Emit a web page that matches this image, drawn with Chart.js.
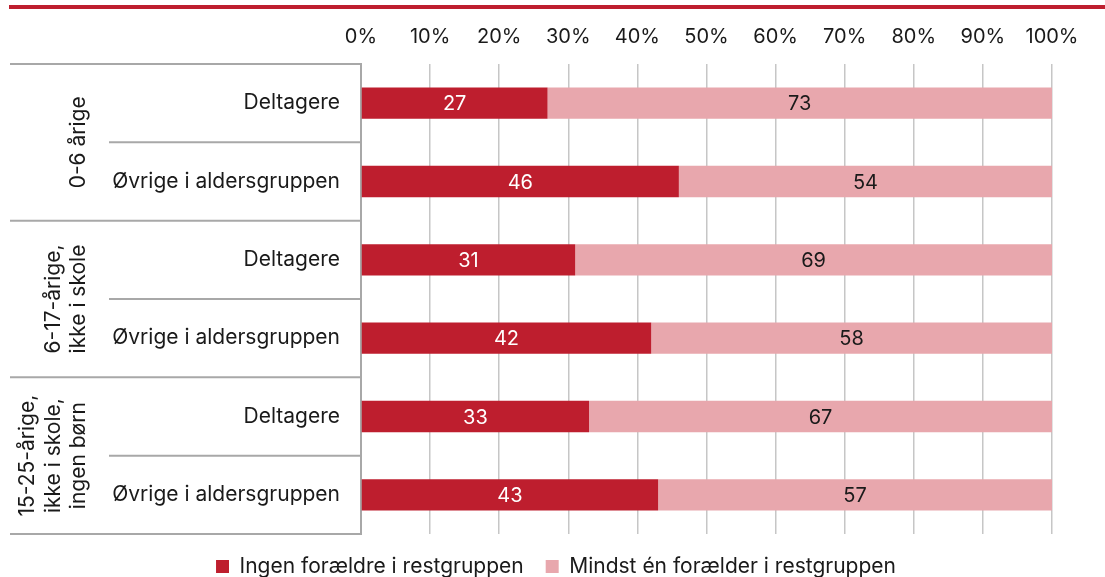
<!DOCTYPE html>
<html>
<head>
<meta charset="utf-8">
<script src="https://cdn.jsdelivr.net/npm/chart.js@4.4.1/dist/chart.umd.min.js"></script>
<style>
  html, body { margin: 0; padding: 0; background: #fff; }
  #wrap { width: 1105px; height: 577px; position: relative; }
</style>
</head>
<body>
<div id="wrap"><canvas id="chart"></canvas></div>
<script>
// rækker i diagrammet, to pr. aldersgruppe
const rowLabels = [
  "Deltagere", "Øvrige i aldersgruppen",
  "Deltagere", "Øvrige i aldersgruppen",
  "Deltagere", "Øvrige i aldersgruppen"
];
const groupLabels = [
  ["0-6 årige"],
  ["6-17-årige,", "ikke i skole"],
  ["15-25-årige,", "ikke i skole,", "ingen børn"]
];
const seriesNames = ["Ingen forældre i restgruppen", "Mindst én forælder i restgruppen"];
const ingenForaeldre = [27, 46, 31, 42, 33, 43];
const mindstEn = [73, 54, 69, 58, 67, 57];
const xTicks = [0, 10, 20, 30, 40, 50, 60, 70, 80, 90, 100];

const RED = "#be1e2e";
const PINK = "#e8a7ad";
const LINE = "#a8a8a8";
const FONT = "Inter, 'Noto Sans', sans-serif";

// rød streg øverst + tabel med gruppenavne til venstre
const tablePlugin = {
  id: "table",
  afterLayout(chart) {
    // forklaringen centreres lidt til højre for midten, under hele figuren
    chart.legend.left = 60;
    chart.legend.right = chart.chartArea.right;
  },
  afterDraw(chart) {
    const ctx = chart.ctx;
    const area = chart.chartArea;
    const y = chart.scales.y;
    const left = 10, mid = 109;

    ctx.save();
    ctx.fillStyle = RED;
    ctx.fillRect(9, 5, chart.width - 9, 4);

    ctx.strokeStyle = LINE;
    ctx.lineWidth = 2;
    const hline = (x0, py) => {
      ctx.beginPath();
      ctx.moveTo(x0, py);
      ctx.lineTo(area.left, py);
      ctx.stroke();
    };
    hline(left, area.top);
    groupLabels.forEach((lines, g) => {
      const first = g * 2;
      const top = first === 0 ? area.top : (y.getPixelForValue(first - 1) + y.getPixelForValue(first)) / 2;
      const bottom = first + 1 === rowLabels.length - 1 ? area.bottom
        : (y.getPixelForValue(first + 1) + y.getPixelForValue(first + 2)) / 2;
      const between = (y.getPixelForValue(first) + y.getPixelForValue(first + 1)) / 2;
      hline(mid, between);
      hline(left, bottom);

      // gruppenavn, drejet 90 grader
      ctx.save();
      ctx.translate(0, (top + bottom) / 2);
      ctx.rotate(-Math.PI / 2);
      ctx.fillStyle = "#1a1a1a";
      ctx.font = "21px " + FONT;
      ctx.textAlign = "center";
      ctx.textBaseline = "middle";
      const n = lines.length;
      lines.forEach((t, i) => {
        ctx.fillText(t, 0, 79 - (n - 1 - i) * 25.5);
      });
      ctx.restore();
    });
    ctx.restore();
  }
};

// værdier midt i hvert segment
const valuePlugin = {
  id: "values",
  afterDatasetsDraw(chart) {
    const ctx = chart.ctx;
    ctx.save();
    ctx.font = "20px " + FONT;
    ctx.textAlign = "center";
    ctx.textBaseline = "middle";
    chart.data.datasets.forEach((ds, i) => {
      ctx.fillStyle = i === 0 ? "#ffffff" : "#1a1a1a";
      chart.getDatasetMeta(i).data.forEach((bar, j) => {
        ctx.fillText(ds.data[j], (bar.x + bar.base) / 2, bar.y + 1);
      });
    });
    ctx.restore();
  }
};

new Chart(document.getElementById("chart"), {
  type: "bar",
  data: {
    labels: rowLabels,
    datasets: [
      { label: seriesNames[0], data: ingenForaeldre, backgroundColor: RED },
      { label: seriesNames[1], data: mindstEn, backgroundColor: PINK }
    ]
  },
  options: {
    indexAxis: "y",
    responsive: true,
    maintainAspectRatio: false,
    animation: false,
    layout: { padding: { top: 10, right: 53, bottom: -10, left: 0 } },
    datasets: { bar: { barPercentage: 0.4, categoryPercentage: 1 } },
    plugins: {
      legend: {
        position: "bottom",
        labels: {
          boxWidth: 13,
          boxHeight: 13,
          padding: 22,
          color: "#1a1a1a",
          font: { family: FONT, size: 21 }
        }
      },
      tooltip: { enabled: false }
    },
    scales: {
      x: {
        position: "top",
        stacked: true,
        min: 0,
        max: 100,
        afterBuildTicks: (s) => { s.ticks = xTicks.map(v => ({ value: v })); },
        ticks: {
          padding: 15,
          color: "#1a1a1a",
          font: { family: FONT, size: 20 },
          callback: (v) => v + "%"
        },
        grid: { color: "#c6c6c6", lineWidth: 1.5, drawTicks: false },
        border: { display: false }
      },
      y: {
        stacked: true,
        afterFit: (s) => { s.width = 361; },
        ticks: {
          padding: 13,
          color: "#1a1a1a",
          font: { family: FONT, size: 21 }
        },
        grid: { display: false },
        border: { display: true, color: LINE, width: 2 }
      }
    }
  },
  plugins: [tablePlugin, valuePlugin]
});
</script>
</body>
</html>
